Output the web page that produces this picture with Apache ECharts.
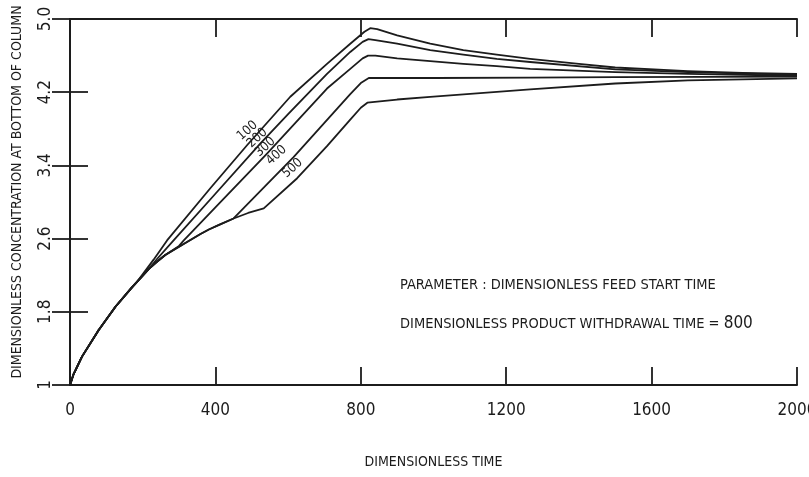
<!DOCTYPE html>
<html>
<head>
<meta charset="utf-8">
<title>Concentration at bottom of column</title>
<script src="https://cdn.jsdelivr.net/npm/echarts@6/dist/echarts.min.js"></script>
<style>
    html, body { margin: 0; padding: 0; background: #fff; }
    #chart { width: 809px; height: 477px; }
</style>
</head>
<body>
<div id="chart"></div>
<script>
    // part shared by all curves (before the feed starts)
    var baseTime = [0, 10, 33, 79, 125, 171, 185, 217, 240, 262, 300, 308, 359, 382, 410, 450, 490, 533];
    var baseConc = [1.0, 1.12, 1.31, 1.60, 1.855, 2.07, 2.13, 2.27, 2.35, 2.42, 2.51, 2.53, 2.65, 2.70, 2.75, 2.82, 2.88, 2.93];

    // each curve from the point where it leaves the shared part
    var time100 = [185, 230, 267, 386, 487, 606, 707, 771, 810, 826, 845, 900, 991, 1082, 1174, 1266, 1400, 1500, 1700, 1850, 2000];
    var conc100 = [2.13, 2.37, 2.58, 3.15, 3.62, 4.15, 4.51, 4.73, 4.86, 4.90, 4.89, 4.82, 4.73, 4.66, 4.61, 4.565, 4.51, 4.47, 4.43, 4.41, 4.40];

    var time200 = [240, 285, 400, 524, 600, 707, 771, 805, 821, 840, 900, 991, 1082, 1174, 1266, 1500, 1700, 2000];
    var conc200 = [2.38, 2.58, 3.09, 3.64, 3.96, 4.40, 4.64, 4.75, 4.78, 4.77, 4.73, 4.66, 4.61, 4.565, 4.53, 4.45, 4.42, 4.39];

    var time300 = [300, 313, 400, 542, 707, 771, 805, 820, 840, 900, 991, 1082, 1174, 1266, 1500, 1700, 2000];
    var conc300 = [2.52, 2.58, 2.94, 3.53, 4.24, 4.455, 4.57, 4.60, 4.60, 4.57, 4.54, 4.51, 4.485, 4.455, 4.42, 4.40, 4.38];

    var time400 = [450, 615, 771, 800, 822, 1000, 1266, 1500, 2000];
    var conc400 = [2.82, 3.49, 4.18, 4.30, 4.355, 4.355, 4.36, 4.365, 4.37];

    var time500 = [533, 625, 707, 771, 800, 818, 900, 991, 1266, 1500, 1700, 2000];
    var conc500 = [2.93, 3.26, 3.61, 3.90, 4.03, 4.085, 4.12, 4.15, 4.23, 4.295, 4.33, 4.35];

    var feedStarts = ['100', '200', '300', '400', '500'];
    var yTicks = [1, 1.8, 2.6, 3.4, 4.2, 5.0];
    var yTickLabels = ['1', '1.8', '2.6', '3.4', '4.2', '5.0'];

    var FONT = '"DejaVu Sans Condensed", "Liberation Sans Narrow", sans-serif';
    var INK = '#1c1c1c';

    function buildCurve(time, conc) {
        var pts = [];
        for (var i = 0; i < baseTime.length; i++) {
            if (baseTime[i] < time[0]) pts.push([baseTime[i], baseConc[i]]);
        }
        for (var j = 0; j < time.length; j++) pts.push([time[j], conc[j]]);
        return pts;
    }

    var curves = [
        buildCurve(time100, conc100),
        buildCurve(time200, conc200),
        buildCurve(time300, conc300),
        buildCurve(time400, conc400),
        buildCurve(time500, conc500)
    ];
    // where the parameter label sits next to its curve
    var labelAt = [[488, 3.78], [515, 3.70], [537, 3.60], [568, 3.51], [612, 3.37]];

    var series = curves.map(function (pts, k) {
        return {
            name: feedStarts[k],
            type: 'line',
            data: pts,
            showSymbol: false,
            smooth: false,
            animation: false,
            lineStyle: { color: INK, width: 1.8, join: 'round' },
            markPoint: {
                symbol: 'circle',
                symbolSize: 1,
                itemStyle: { color: 'rgba(0,0,0,0)' },
                animation: false,
                data: [{ coord: labelAt[k], value: feedStarts[k] }],
                label: {
                    show: true,
                    position: 'inside',
                    rotate: 42,
                    formatter: feedStarts[k],
                    fontFamily: FONT,
                    fontSize: 13,
                    color: INK
                }
            }
        };
    });

    var tickStyle = { show: true, inside: true, length: 18, lineStyle: { color: INK, width: 1.8 } };
    var lineStyle = { show: true, lineStyle: { color: INK, width: 2 } };

    var chart = echarts.init(document.getElementById('chart'));
    chart.setOption({
        backgroundColor: '#fff',
        animation: false,
        grid: { left: 70, top: 19, right: 12, bottom: 92, containLabel: false, outerBoundsMode: 'none' },
        xAxis: [{
            type: 'value',
            min: 0, max: 2000, interval: 400,
            name: 'DIMENSIONLESS TIME',
            nameLocation: 'middle',
            nameGap: 70,
            nameTextStyle: { fontFamily: FONT, fontSize: 14, color: INK },
            axisLine: lineStyle,
            axisTick: tickStyle,
            splitLine: { show: false },
            axisLabel: {
                margin: 17, fontFamily: FONT, fontSize: 17, color: INK,
                formatter: function (v) { return String(v); }
            }
        }, {
            type: 'value', position: 'top',
            min: 0, max: 2000, interval: 400,
            axisLine: lineStyle,
            axisTick: tickStyle,
            splitLine: { show: false },
            axisLabel: { show: false }
        }],
        yAxis: [{
            type: 'value',
            min: 1, max: 5,
            name: 'DIMENSIONLESS CONCENTRATION AT BOTTOM OF COLUMN',
            nameLocation: 'middle',
            nameGap: 46,
            nameTextStyle: { fontFamily: FONT, fontSize: 14, color: INK, padding: [0, 0, 0, 20] },
            axisLine: lineStyle,
            axisTick: Object.assign({ customValues: yTicks }, tickStyle),
            splitLine: { show: false },
            axisLabel: {
                customValues: yTicks,
                rotate: 90,
                margin: 16,
                fontFamily: FONT, fontSize: 17, color: INK,
                formatter: function (v) {
                    var i = yTicks.indexOf(v);
                    return i >= 0 ? yTickLabels[i] : '';
                }
            }
        }, {
            type: 'value', position: 'right',
            min: 1, max: 5,
            axisLine: lineStyle,
            axisTick: Object.assign({ customValues: yTicks }, tickStyle),
            splitLine: { show: false },
            axisLabel: { show: false }
        }],
        graphic: [{
            type: 'text',
            style: {
                x: 400, y: 285,
                text: 'PARAMETER : DIMENSIONLESS FEED START TIME',
                fontFamily: FONT, fontSize: 14.5, fill: INK,
                verticalAlign: 'middle'
            }
        }, {
            type: 'text',
            style: {
                x: 400, y: 324,
                text: '{a|DIMENSIONLESS PRODUCT WITHDRAWAL TIME = }{b|800}',
                verticalAlign: 'middle',
                rich: {
                    a: { fontFamily: FONT, fontSize: 14.5, fill: INK, color: INK },
                    b: { fontFamily: FONT, fontSize: 17, fill: INK, color: INK }
                }
            }
        }],
        series: series
    });
</script>
</body>
</html>
